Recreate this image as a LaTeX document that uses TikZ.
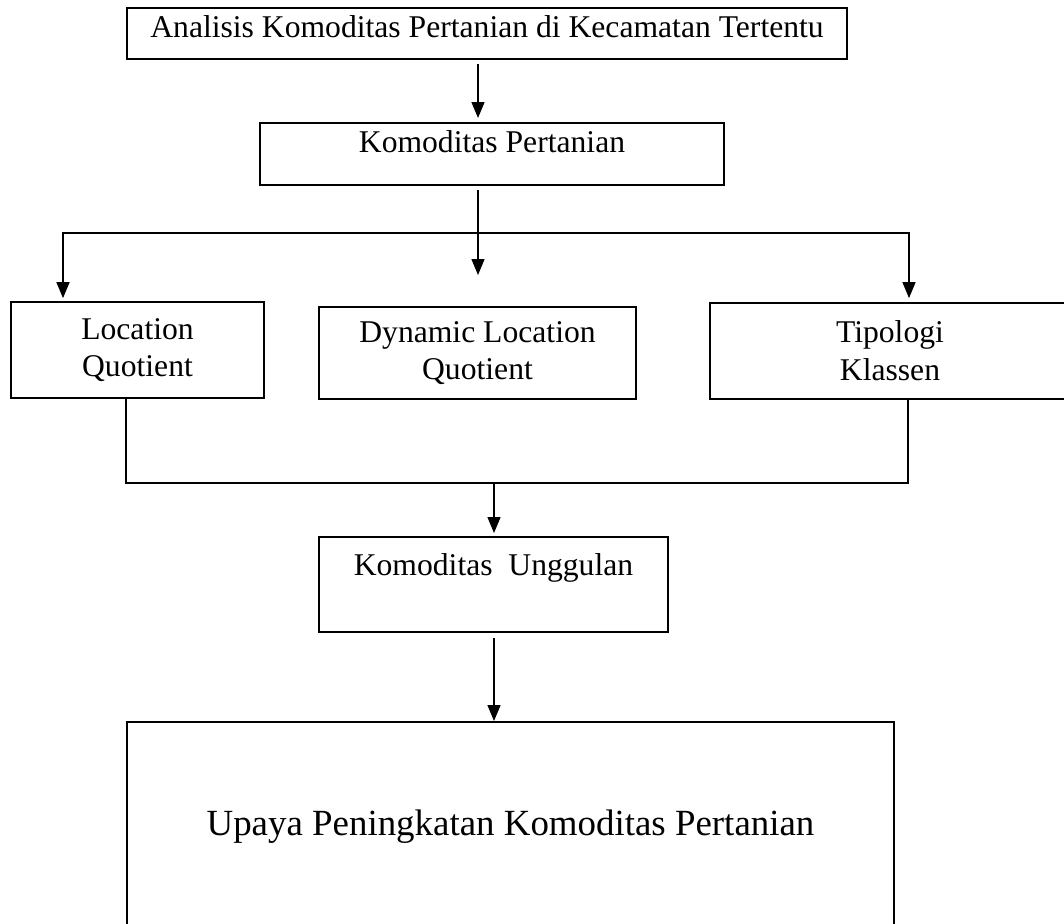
\documentclass[tikz,border=0pt]{standalone}
\usepackage{fontspec}
\setmainfont{Liberation Serif}
\usetikzlibrary{arrows.meta}

\begin{document}
\begin{tikzpicture}[
	box/.style={draw, line width=1pt, inner sep=0pt, font=\fontsize{18}{21.5}\selectfont},
	arr/.style={line width=0.8pt, -{Triangle[length=3.2mm,width=2.6mm]}}
	]
	\clip (0,0) rectangle (21.28,-18.46);
	% boxes
	\node [box, anchor=north, minimum width=14.39cm, text height=0.6cm, text depth=0.42cm] (analisis) at (9.74,-0.14) {Analisis Komoditas Pertanian di Kecamatan Tertentu};
	\node [box, anchor=north, minimum width=9.29cm, text height=0.6cm, text depth=0.64cm] (komoditas) at (9.84,-2.44) {Komoditas Pertanian};
	\node [box, align=center, minimum width=5.06cm, minimum height=1.92cm] (lq) at (2.75,-7.0) {Location\\Quotient};
	\node [box, align=center, minimum width=6.34cm, minimum height=1.84cm] (dlq) at (9.55,-7.06) {Dynamic Location\\Quotient};
	\node [box, align=center, minimum width=7.2cm, minimum height=1.92cm] (klassen) at (17.8,-7.02) {Tipologi\\Klassen};
	\node [box, anchor=north, minimum width=6.98cm, text height=0.78cm, text depth=1.12cm] (unggulan) at (9.87,-10.72) {Komoditas\ \ Unggulan};
	\node [box, anchor=north, minimum width=15.34cm, text height=2.28cm, text depth=2.1cm, font=\fontsize{21}{25}\selectfont] (upaya) at (10.21,-14.42) {Upaya Peningkatan Komoditas Pertanian};
	% connectors
	\coordinate (trunk) at (9.56,-5.5);
	\coordinate (fork) at (9.56,-4.66);
	\coordinate (lqx) at (1.26,0);
	\coordinate (klx) at (18.18,0);
	\coordinate (lqout) at (2.52,0);
	\coordinate (klout) at (18.16,0);
	\coordinate (merge) at (9.88,-9.66);
	\draw [arr, shorten <=0.08cm, shorten >=0.08cm] (analisis.south -| trunk) -- (komoditas.north -| trunk);
	\draw [arr, shorten <=0.08cm] (komoditas.south -| trunk) -- (trunk);
	\draw [arr, shorten >=0.06cm] (fork) -| (lq.north -| lqx);
	\draw [arr, shorten >=0.08cm] (fork) -| (klassen.north -| klx);
	\draw [line width=0.8pt] (lq.south -| lqout) |- (merge) -| (klassen.south -| klout);
	\draw [arr, shorten >=0.06cm] (merge) -- (unggulan.north -| merge);
	\draw [arr, shorten <=0.1cm] (unggulan.south -| merge) -- (upaya.north -| merge);
\end{tikzpicture}
\end{document}
